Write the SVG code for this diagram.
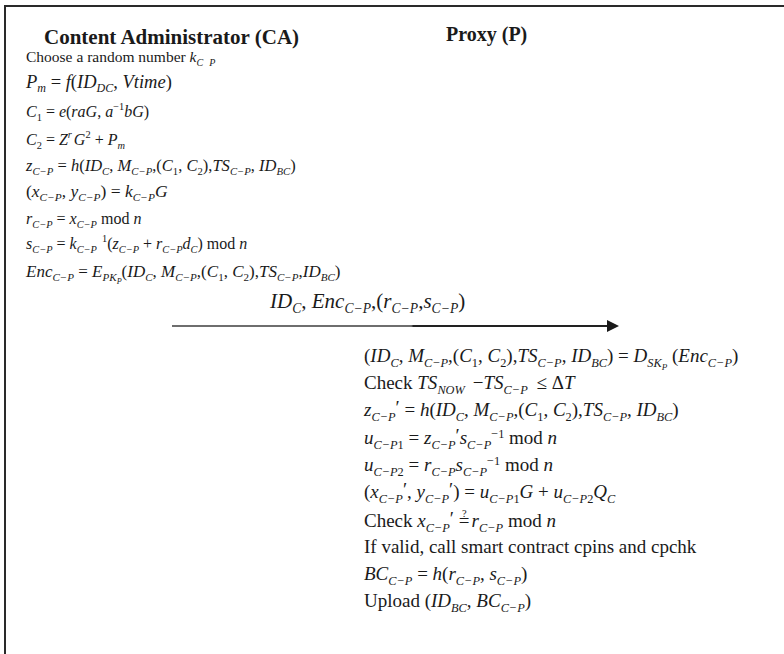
<svg xmlns="http://www.w3.org/2000/svg" width="784" height="654" viewBox="0 0 784 654">
<defs>
<style>
text { font-family: "Liberation Serif", "Times New Roman", serif; font-size: 17px; fill: #1a1a1a; }
.h { font-weight: bold; font-size: 20px; }
.i { font-style: italic; }
.sb { font-style: italic; font-size: 0.65em; }
.sr { font-size: 0.65em; }
.ss { font-style: italic; font-size: 0.48em; }
.q { font-size: 0.55em; }
.lbl { font-size: 21px; }
.px { font-size: 19px; }
</style>
<marker id="ah" markerWidth="12" markerHeight="12" refX="0" refY="6" orient="auto" markerUnits="userSpaceOnUse">
<path d="M0,0 L12,6 L0,12 Z" fill="#1a1a1a"/>
</marker>
<linearGradient id="lg" gradientUnits="userSpaceOnUse" x1="172" y1="0" x2="607" y2="0">
<stop offset="0.55" stop-color="#6e6e6e"/>
<stop offset="0.555" stop-color="#222"/>
</linearGradient>
</defs>
<rect width="784" height="654" fill="#fff"/>
<g id="frame" stroke="#2a2a2a" stroke-width="2" fill="none">
<path d="M5,654 V6 H784"/>
</g>
<g id="ca">
<text class="h" x="44" y="44" style="font-size:21px">Content Administrator (CA)</text>
<text x="26" y="62" style="font-size:15.5px">Choose a random number <tspan class="i">k</tspan><tspan class="sb" dy="4">C</tspan><tspan class="sb" dx="6">P</tspan></text>
<text x="26" y="88" style="font-size:18.5px"><tspan class="i">P</tspan><tspan class="sb" dy="4">m</tspan><tspan dy="-4"> = </tspan><tspan class="i">f</tspan>(<tspan class="i">ID</tspan><tspan class="sb" dy="4">DC</tspan><tspan dy="-4">, </tspan><tspan class="i">Vtime</tspan>)</text>
<text x="26" y="117" style="font-size:16px"><tspan class="i">C</tspan><tspan class="sr" dy="4">1</tspan><tspan dy="-4"> = </tspan><tspan class="i">e</tspan>(<tspan class="i">raG</tspan>, <tspan class="i">a</tspan><tspan class="sr" dy="-7">−1</tspan><tspan class="i" dy="7">bG</tspan>)</text>
<text x="26" y="145" style="font-size:16px"><tspan class="i">C</tspan><tspan class="sr" dy="4">2</tspan><tspan dy="-4"> = </tspan><tspan class="i">Z</tspan><tspan class="sb" dy="-7">r</tspan><tspan class="i" dy="7" dx="2">G</tspan><tspan class="sr" dy="-7">2</tspan><tspan dy="7"> + </tspan><tspan class="i">P</tspan><tspan class="sb" dy="4">m</tspan></text>
<text x="26" y="171" style="font-size:16.5px"><tspan class="i">z</tspan><tspan class="sb" dy="4">C−P</tspan><tspan dy="-4"> = </tspan><tspan class="i">h</tspan>(<tspan class="i">ID</tspan><tspan class="sb" dy="4">C</tspan><tspan dy="-4">, </tspan><tspan class="i">M</tspan><tspan class="sb" dy="4">C−P</tspan><tspan dy="-4">,(</tspan><tspan class="i">C</tspan><tspan class="sr" dy="4">1</tspan><tspan dy="-4">, </tspan><tspan class="i">C</tspan><tspan class="sr" dy="4">2</tspan><tspan dy="-4">),</tspan><tspan class="i">TS</tspan><tspan class="sb" dy="4">C−P</tspan><tspan dy="-4">, </tspan><tspan class="i">ID</tspan><tspan class="sb" dy="4">BC</tspan><tspan dy="-4">)</tspan></text>
<text x="26" y="197" style="font-size:17.5px">(<tspan class="i">x</tspan><tspan class="sb" dy="4">C−P</tspan><tspan dy="-4">, </tspan><tspan class="i">y</tspan><tspan class="sb" dy="4">C−P</tspan><tspan dy="-4">) = </tspan><tspan class="i">k</tspan><tspan class="sb" dy="4">C−P</tspan><tspan class="i" dy="-4">G</tspan></text>
<text x="26" y="224" style="font-size:16px"><tspan class="i">r</tspan><tspan class="sb" dy="4">C−P</tspan><tspan dy="-4"> = </tspan><tspan class="i">x</tspan><tspan class="sb" dy="4">C−P</tspan><tspan dy="-4"> mod </tspan><tspan class="i">n</tspan></text>
<text x="26" y="249" style="font-size:16px"><tspan class="i">s</tspan><tspan class="sb" dy="4">C−P</tspan><tspan dy="-4"> = </tspan><tspan class="i">k</tspan><tspan class="sb" dy="4">C−P</tspan><tspan class="sr" dx="5" dy="-11">1</tspan><tspan dy="7">(</tspan><tspan class="i">z</tspan><tspan class="sb" dy="4">C−P</tspan><tspan dy="-4"> + </tspan><tspan class="i">r</tspan><tspan class="sb" dy="4">C−P</tspan><tspan class="i" dy="-4">d</tspan><tspan class="sb" dy="4">C</tspan><tspan dy="-4">) mod </tspan><tspan class="i">n</tspan></text>
<text x="26" y="277"><tspan class="i">Enc</tspan><tspan class="sb" dy="4">C−P</tspan><tspan dy="-4"> = </tspan><tspan class="i">E</tspan><tspan class="sb" dy="4">PK</tspan><tspan class="ss" dy="3">P</tspan><tspan dy="-7">(</tspan><tspan class="i">ID</tspan><tspan class="sb" dy="4">C</tspan><tspan dy="-4">, </tspan><tspan class="i">M</tspan><tspan class="sb" dy="4">C−P</tspan><tspan dy="-4">,(</tspan><tspan class="i">C</tspan><tspan class="sr" dy="4">1</tspan><tspan dy="-4">, </tspan><tspan class="i">C</tspan><tspan class="sr" dy="4">2</tspan><tspan dy="-4">),</tspan><tspan class="i">TS</tspan><tspan class="sb" dy="4">C−P</tspan><tspan dy="-4">,</tspan><tspan class="i">ID</tspan><tspan class="sb" dy="4">BC</tspan><tspan dy="-4">)</tspan></text>
</g>
<g id="connectors">
<line x1="172" y1="326" x2="607" y2="326" stroke="url(#lg)" stroke-width="2.2" marker-end="url(#ah)"/>
<text class="lbl" x="270" y="308"><tspan class="i">ID</tspan><tspan class="sb" dy="5">C</tspan><tspan dy="-5">, </tspan><tspan class="i">Enc</tspan><tspan class="sb" dy="5">C−P</tspan><tspan dy="-5">,(</tspan><tspan class="i">r</tspan><tspan class="sb" dy="5">C−P</tspan><tspan dy="-5">,</tspan><tspan class="i">s</tspan><tspan class="sb" dy="5">C−P</tspan><tspan dy="-5">)</tspan></text>
</g>
<g id="proxy">
<text class="h" x="446" y="41">Proxy (P)</text>
<text class="px" x="364" y="362">(<tspan class="i">ID</tspan><tspan class="sb" dy="4.5">C</tspan><tspan dy="-4.5">, </tspan><tspan class="i">M</tspan><tspan class="sb" dy="4.5">C−P</tspan><tspan dy="-4.5">,(</tspan><tspan class="i">C</tspan><tspan class="sr" dy="4.5">1</tspan><tspan dy="-4.5">, </tspan><tspan class="i">C</tspan><tspan class="sr" dy="4.5">2</tspan><tspan dy="-4.5">),</tspan><tspan class="i">TS</tspan><tspan class="sb" dy="4.5">C−P</tspan><tspan dy="-4.5">, </tspan><tspan class="i">ID</tspan><tspan class="sb" dy="4.5">BC</tspan><tspan dy="-4.5">) = </tspan><tspan class="i">D</tspan><tspan class="sb" dy="4.5">SK</tspan><tspan class="ss" dy="3">P</tspan><tspan dy="-7.5"> (</tspan><tspan class="i">Enc</tspan><tspan class="sb" dy="4.5">C−P</tspan><tspan dy="-4.5">)</tspan></text>
<text class="px" x="364" y="389">Check <tspan class="i">TS</tspan><tspan class="sb" dy="4.5">NOW</tspan><tspan dy="-4.5" dx="8">−</tspan><tspan class="i">TS</tspan><tspan class="sb" dy="4.5">C−P</tspan><tspan dy="-4.5" dx="4"> ≤ Δ</tspan><tspan class="i">T</tspan></text>
<text class="px" x="364" y="416"><tspan class="i">z</tspan><tspan class="sb" dy="4.5">C−P</tspan><tspan dy="-7">′</tspan><tspan dy="2.5"> = </tspan><tspan class="i">h</tspan>(<tspan class="i">ID</tspan><tspan class="sb" dy="4.5">C</tspan><tspan dy="-4.5">, </tspan><tspan class="i">M</tspan><tspan class="sb" dy="4.5">C−P</tspan><tspan dy="-4.5">,(</tspan><tspan class="i">C</tspan><tspan class="sr" dy="4.5">1</tspan><tspan dy="-4.5">, </tspan><tspan class="i">C</tspan><tspan class="sr" dy="4.5">2</tspan><tspan dy="-4.5">),</tspan><tspan class="i">TS</tspan><tspan class="sb" dy="4.5">C−P</tspan><tspan dy="-4.5">, </tspan><tspan class="i">ID</tspan><tspan class="sb" dy="4.5">BC</tspan><tspan dy="-4.5">)</tspan></text>
<text class="px" x="364" y="444"><tspan class="i">u</tspan><tspan class="sb" dy="4.5">C−P</tspan><tspan class="sr">1</tspan><tspan dy="-4.5"> = </tspan><tspan class="i">z</tspan><tspan class="sb" dy="4.5">C−P</tspan><tspan dy="-7">′</tspan><tspan class="i" dy="2.5">s</tspan><tspan class="sb" dy="4.5">C−P</tspan><tspan class="sr" dy="-11">−1</tspan><tspan dy="6.5"> mod </tspan><tspan class="i">n</tspan></text>
<text class="px" x="364" y="471"><tspan class="i">u</tspan><tspan class="sb" dy="4.5">C−P</tspan><tspan class="sr">2</tspan><tspan dy="-4.5"> = </tspan><tspan class="i">r</tspan><tspan class="sb" dy="4.5">C−P</tspan><tspan class="i" dy="-4.5">s</tspan><tspan class="sb" dy="4.5">C−P</tspan><tspan class="sr" dy="-11">−1</tspan><tspan dy="6.5"> mod </tspan><tspan class="i">n</tspan></text>
<text class="px" x="364" y="498">(<tspan class="i">x</tspan><tspan class="sb" dy="4.5">C−P</tspan><tspan dy="-7">′</tspan><tspan dy="2.5">, </tspan><tspan class="i">y</tspan><tspan class="sb" dy="4.5">C−P</tspan><tspan dy="-7">′</tspan><tspan dy="2.5">) = </tspan><tspan class="i">u</tspan><tspan class="sb" dy="4.5">C−P</tspan><tspan class="sr">1</tspan><tspan class="i" dy="-4.5">G</tspan><tspan> + </tspan><tspan class="i">u</tspan><tspan class="sb" dy="4.5">C−P</tspan><tspan class="sr">2</tspan><tspan class="i" dy="-4.5">Q</tspan><tspan class="sb" dy="4.5">C</tspan></text>
<text class="px" x="364" y="527">Check <tspan class="i">x</tspan><tspan class="sb" dy="4.5">C−P</tspan><tspan dy="-7">′</tspan><tspan dy="2.5"> =</tspan><tspan class="q" dx="-7.5" dy="-10">?</tspan><tspan class="i" dx="5" dy="10">r</tspan><tspan class="sb" dy="4.5">C−P</tspan><tspan dy="-4.5"> mod </tspan><tspan class="i">n</tspan></text>
<text class="px" x="364" y="553">If valid, call smart contract cpins and cpchk</text>
<text class="px" x="364" y="580"><tspan class="i">BC</tspan><tspan class="sb" dy="4.5">C−P</tspan><tspan dy="-4.5"> = </tspan><tspan class="i">h</tspan>(<tspan class="i">r</tspan><tspan class="sb" dy="4.5">C−P</tspan><tspan dy="-4.5">, </tspan><tspan class="i">s</tspan><tspan class="sb" dy="4.5">C−P</tspan><tspan dy="-4.5">)</tspan></text>
<text class="px" x="364" y="607">Upload (<tspan class="i">ID</tspan><tspan class="sb" dy="4.5">BC</tspan><tspan dy="-4.5">, </tspan><tspan class="i">BC</tspan><tspan class="sb" dy="4.5">C−P</tspan><tspan dy="-4.5">)</tspan></text>
</g>
</svg>
